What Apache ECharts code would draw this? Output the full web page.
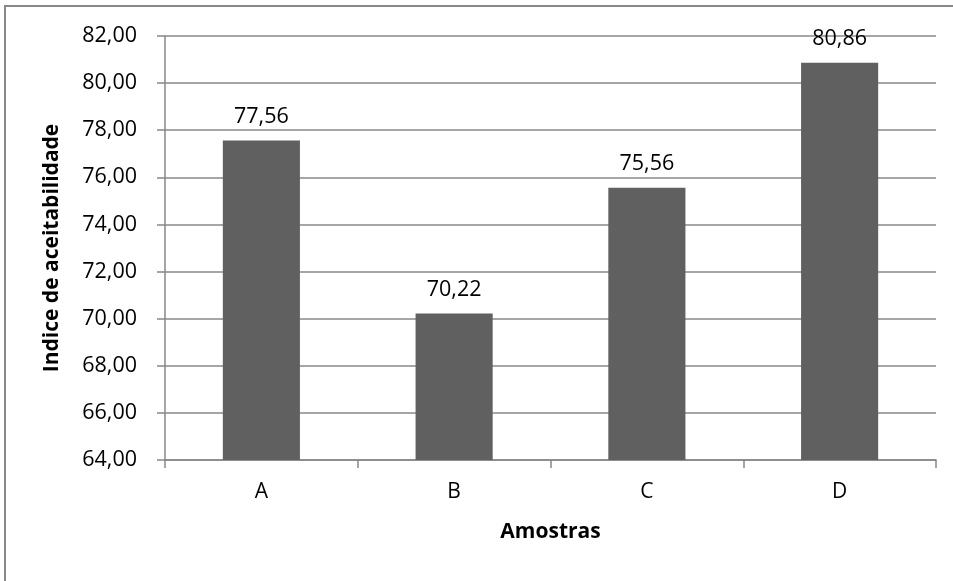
<!DOCTYPE html>
<html><head><meta charset="utf-8">
<script src="https://cdn.jsdelivr.net/npm/echarts@6/dist/echarts.min.js"></script>
<style>html,body{margin:0;padding:0;background:#fff}#c{width:953px;height:581px}</style>
</head><body><div id="c"></div>
<script>
const categories = ['A', 'B', 'C', 'D'];
const values = [77.56, 70.22, 75.56, 80.86];
const yMin = 64, yMax = 82, yStep = 2;
const fmt = v => v.toFixed(2).replace('.', ',');
const FONT = '"Open Sans", "Liberation Sans", sans-serif';
const chart = echarts.init(document.getElementById('c'));
chart.setOption({
  animation: false,
  backgroundColor: '#fff',
  graphic: [{type: 'rect', shape: {x: 5, y: 6, width: 1200, height: 1200}, style: {fill: 'none', stroke: '#888', lineWidth: 2}, silent: true}],
  grid: {left: 165, right: 17, top: 36, bottom: 121},
  xAxis: {
    type: 'category', data: categories,
    name: 'Amostras', nameLocation: 'middle', nameGap: 62,
    nameTextStyle: {fontFamily: FONT, fontSize: 21, fontWeight: 'bold', color: '#000'},
    axisLine: {lineStyle: {color: '#888', width: 1.5}},
    axisTick: {show: true, length: 8, lineStyle: {color: '#888', width: 1.5}},
    axisLabel: {fontFamily: FONT, fontSize: 21, color: '#000', margin: 22}
  },
  yAxis: {
    type: 'value', min: yMin, max: yMax, interval: yStep,
    name: 'Indice de aceitabilidade', nameLocation: 'middle', nameGap: 102, nameRotate: 90,
    nameTextStyle: {fontFamily: FONT, fontSize: 21, fontWeight: 'bold', color: '#000'},
    axisLine: {show: true, lineStyle: {color: '#888', width: 1.5}},
    axisTick: {show: true, length: 8, lineStyle: {color: '#888', width: 1.5}},
    splitLine: {lineStyle: {color: '#888', width: 1.5}},
    axisLabel: {fontFamily: FONT, fontSize: 21.5, color: '#000', margin: 28, formatter: v => fmt(v)}
  },
  series: [{
    type: 'bar', data: values, barWidth: '40%',
    itemStyle: {color: '#606060'},
    label: {show: true, position: 'top', distance: 13, fontFamily: FONT, fontSize: 21.5, color: '#000', formatter: p => fmt(p.value)}
  }]
});
</script></body></html>
